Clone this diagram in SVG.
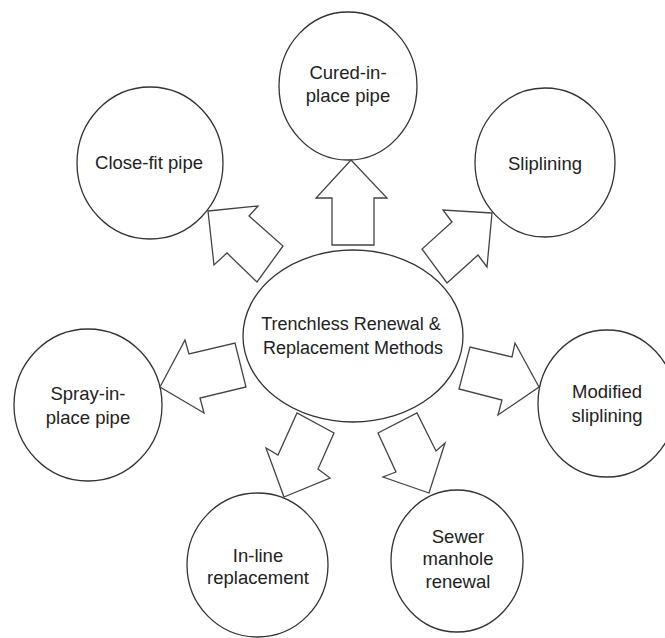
<svg xmlns="http://www.w3.org/2000/svg" width="665" height="638" viewBox="0 0 665 638">
<style>
.n{fill:#fff;stroke:#333;stroke-width:1.3}
.a{fill:#fff;stroke:#444;stroke-width:1.3;stroke-linejoin:miter}
text{font-family:"Liberation Sans",Arial,sans-serif;font-size:18.5px;fill:#222;text-anchor:middle}
text.c{font-size:18px}
</style>
<rect width="665" height="638" fill="#fff"/>
<g id="center"><ellipse class="n" cx="353" cy="336" rx="110" ry="86"/><text class="c" x="351" y="330">Trenchless Renewal &amp;</text><text class="c" x="353" y="354">Replacement Methods</text></g>
<g id="cured"><ellipse class="n" cx="348" cy="86" rx="69" ry="74"/><text x="348" y="79">Cured-in-</text><text x="348" y="102">place pipe</text></g>
<g id="closefit"><ellipse class="n" cx="150" cy="163" rx="73" ry="76"/><text x="149" y="169">Close-fit pipe</text></g>
<g id="sliplining"><ellipse class="n" cx="545" cy="162.5" rx="70" ry="74.5"/><text x="545" y="170">Sliplining</text></g>
<g id="spray"><ellipse class="n" cx="88" cy="405" rx="74" ry="76"/><text x="88" y="400">Spray-in-</text><text x="88" y="424">place pipe</text></g>
<g id="modified"><ellipse class="n" cx="607" cy="403.5" rx="69" ry="73.5"/><text x="607" y="398">Modified</text><text x="607" y="422">sliplining</text></g>
<g id="inline"><ellipse class="n" cx="257.5" cy="565" rx="70.5" ry="72"/><text x="258" y="562">In-line</text><text x="258" y="584">replacement</text></g>
<g id="sewer"><ellipse class="n" cx="457" cy="561" rx="66" ry="71"/><text x="458" y="543">Sewer</text><text x="458" y="565">manhole</text><text x="458" y="588">renewal</text></g>
<g id="connectors">
<polygon class="a" points="351,160 387,198 374,198 374,245 332,245 332,198 316,198"/>
<polygon class="a" points="208,211 258,206 249,216 283,246 257,282 227,253 214,265"/>
<polygon class="a" points="492,213 443,210 452,222 422,249 447,283 478,255 487,267"/>
<polygon class="a" points="160,387 185,340 189,354 235,343 246,387 200,398 204,413"/>
<polygon class="a" points="539,387 515,343 512,357 470,347 459,389 502,400 498,415"/>
<polygon class="a" points="284,497 266,448 278,455 297,413 334,433 318,469 330,478"/>
<polygon class="a" points="429,493 383,477 396,472 378,433 417,413 436,451 445,443"/>
</g>
</svg>
